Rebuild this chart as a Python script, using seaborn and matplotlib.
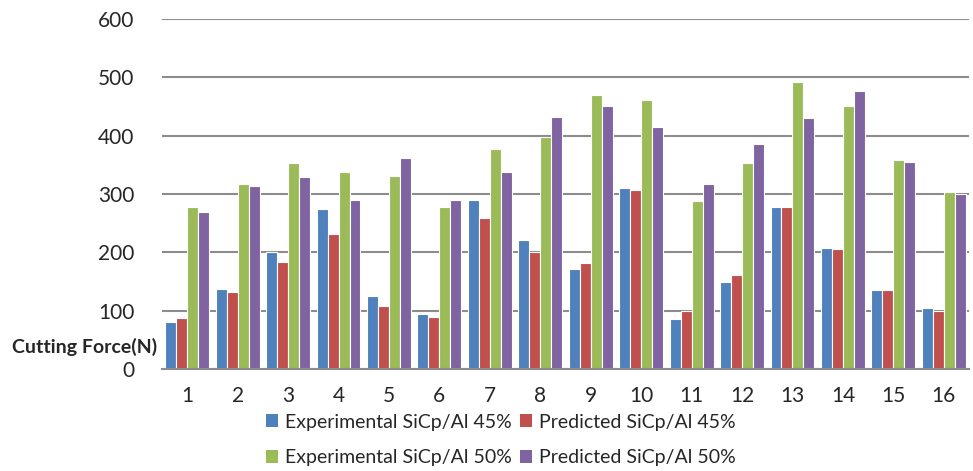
import matplotlib
matplotlib.use("Agg")
import matplotlib.pyplot as plt
import seaborn as sns
import pandas as pd
from matplotlib.patches import Patch

runs = [str(i) for i in range(1, 17)]
exp45 = [80, 138, 200, 275, 126, 95, 290, 221, 171, 311, 86, 149, 278, 207, 135, 105]
pred45 = [88, 132, 183, 231, 108, 89, 259, 201, 182, 307, 100, 161, 278, 206, 136, 100]
exp50 = [278, 317, 354, 338, 331, 278, 377, 398, 469, 462, 288, 354, 492, 451, 359, 303]
pred50 = [270, 313, 330, 290, 361, 289, 338, 432, 451, 415, 317, 386, 431, 477, 355, 300]
series_names = ["Experimental SiCp/Al 45%", "Predicted SiCp/Al 45%",
                "Experimental SiCp/Al 50%", "Predicted SiCp/Al 50%"]
colors = ["#4F81BD", "#C0504D", "#9BBB59", "#8064A2"]
yticks = [0, 100, 200, 300, 400, 500, 600]

rows = []
for name, vals in zip(series_names, [exp45, pred45, exp50, pred50]):
    for r, v in zip(runs, vals):
        rows.append({"Run": r, "Series": name, "Force": v})
df = pd.DataFrame(rows)

sns.set_style("white")
plt.rcParams["font.family"] = ["Lato", "DejaVu Sans"]

fig = plt.figure(figsize=(9.73, 4.71), dpi=100)
ax = fig.add_axes([162/973, 1 - 369/471, (969 - 162)/973, (369 - 19)/471])

sns.barplot(data=df, x="Run", y="Force", hue="Series", hue_order=series_names,
            palette=colors, width=0.87, ax=ax, edgecolor="white", linewidth=0.8,
            legend=False, errorbar=None, saturation=1)

ax.set_ylim(0, 600)
ax.set_xlim(-0.5, 15.5)
ax.set_yticks(yticks)
ax.set_yticklabels([str(t) for t in yticks], fontsize=15)
ax.tick_params(axis="x", labelsize=15, length=0, pad=12)
ax.tick_params(axis="y", length=0, pad=20)
ax.yaxis.grid(True, color="#8C8C8C", linewidth=1.5)
ax.set_axisbelow(True)
for s in ["top", "right", "left"]:
    ax.spines[s].set_visible(False)
ax.spines["bottom"].set_color("#8C8C8C")
ax.spines["bottom"].set_linewidth(1.5)
ax.set_xlabel("")
ax.set_ylabel("")

fig.text(12/973, 1 - 347/471, "Cutting Force(N)", fontsize=14, fontweight="bold",
         ha="left", va="center")

handles = [Patch(facecolor=c, edgecolor="none") for c in colors]
order = [0, 2, 1, 3]
fig.legend([handles[i] for i in order], [series_names[i] for i in order],
           loc="center left", bbox_to_anchor=(256/973, 1 - 440/471),
           ncol=2, frameon=False, fontsize=14, handlelength=0.65, handleheight=0.65,
           handletextpad=0.35, columnspacing=0.4, labelspacing=0.95, borderpad=0)

fig.savefig("out.png", dpi=100)
